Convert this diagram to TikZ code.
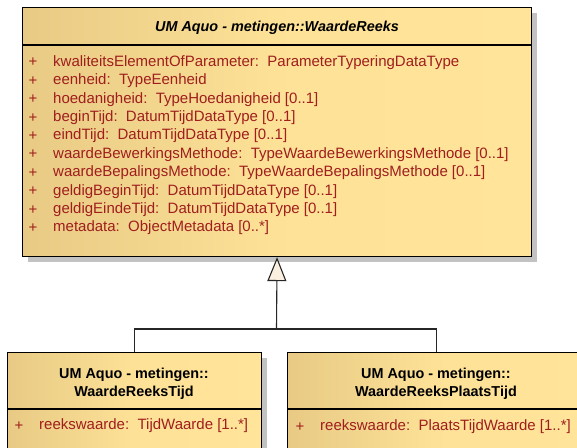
\documentclass[tikz,border=0pt]{standalone}
\usepackage{fontspec}
\setmainfont{Liberation Sans}
\usetikzlibrary{arrows.meta,shadows}
\definecolor{attrred}{HTML}{A01E1E}
\definecolor{boxleft}{HTML}{E8CA84}
\definecolor{boxright}{HTML}{FFE499}
\definecolor{boxshade}{HTML}{C2C2C2}
\definecolor{headfill}{HTML}{FBF0E0}
\tikzset{
  classbox/.style={draw=black, line width=1.1pt, rectangle, anchor=north west,
    inner sep=0pt, left color=boxleft, right color=boxright, middle color=boxright!90!boxleft,
    drop shadow={shadow xshift=5pt, shadow yshift=-5pt, fill=boxshade, opacity=1}},
  sepline/.style={draw=black, line width=1.1pt},
  titletxt/.style={inner sep=0pt, font=\fontsize{14.4}{18}\selectfont\bfseries, align=center},
  attrtxt/.style={inner sep=0pt, anchor=west, text=attrred, font=\fontsize{15}{17}\selectfont},
  plus/.style={inner sep=0pt, text=attrred, font=\fontsize{15}{17}\selectfont},
  link/.style={draw=black!85, line width=1.1pt},
}
\begin{document}
\begin{tikzpicture}[x=1pt,y=-1pt]
\useasboundingbox (0,0) rectangle (577,447);
\clip (0,0) rectangle (577,447);

% superclass
\node[classbox, minimum width=509pt, minimum height=249pt] (base) at (22,7) {};
\coordinate (bsepL) at (22,45);
\coordinate (bsepR) at (531,45);
\draw[sepline] (bsepL) -- (bsepR);
\node[titletxt, font=\fontsize{14.4}{18}\selectfont\bfseries\itshape] (btitle) at (277,28) {UM Aquo - metingen::WaardeReeks};

\foreach \i/\txt in {0/{kwaliteitsElementOfParameter:\ \ ParameterTyperingDataType},
  1/{eenheid:\ \ TypeEenheid},
  2/{hoedanigheid:\ \ TypeHoedanigheid [0..1]},
  3/{beginTijd:\ \ DatumTijdDataType [0..1]},
  4/{eindTijd:\ \ DatumTijdDataType [0..1]},
  5/{waardeBewerkingsMethode:\ \ TypeWaardeBewerkingsMethode [0..1]},
  6/{waardeBepalingsMethode:\ \ TypeWaardeBepalingsMethode [0..1]},
  7/{geldigBeginTijd:\ \ DatumTijdDataType [0..1]},
  8/{geldigEindeTijd:\ \ DatumTijdDataType [0..1]},
  9/{metadata:\ \ ObjectMetadata [0..*]}}
{
  \node[plus] (bp\i) at (33,62.5+18.4*\i) {+};
  \node[attrtxt] (ba\i) at (53,62.5+18.4*\i) {\txt};
}

% subclass: WaardeReeksTijd
\node[classbox, minimum width=254pt, minimum height=120pt] (wrt) at (7,352) {};
\coordinate (wsepL) at (7,409);
\coordinate (wsepR) at (261,409);
\draw[sepline] (wsepL) -- (wsepR);
\node[titletxt] (wtitle) at (134,384) {UM Aquo - metingen::\\WaardeReeksTijd};
\node[plus] (wp) at (19,426) {+};
\node[attrtxt] (wa) at (39,426) {reekswaarde:\ \ TijdWaarde [1..*]};

% subclass: WaardeReeksPlaatsTijd
\node[classbox, minimum width=298pt, minimum height=120pt] (wrpt) at (287,352) {};
\coordinate (psepL) at (287,409);
\coordinate (psepR) at (585,409);
\draw[sepline] (psepL) -- (psepR);
\node[titletxt] (ptitle) at (436,384) {UM Aquo - metingen::\\WaardeReeksPlaatsTijd};
\node[plus] (pp) at (300,427) {+};
\node[attrtxt] (pa) at (320,427) {reekswaarde:\ \ PlaatsTijdWaarde [1..*]};

% generalization
\coordinate (junc) at (276.5,329);
\draw[link] (wrt.north) |- (junc);
\draw[link] (wrpt.north) |- (junc);
\draw[link, -{Triangle[open, length=24pt, width=19pt, fill=headfill]}] (junc) -- (base.south);
\end{tikzpicture}
\end{document}
